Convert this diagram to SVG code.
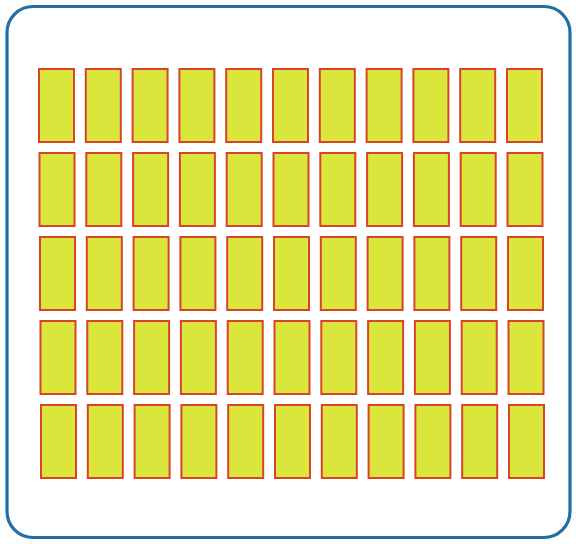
<svg xmlns="http://www.w3.org/2000/svg" width="576" height="544" viewBox="0 0 576 544">
<style>
.c{fill:#dbe63c;stroke:#d9432a;stroke-width:2}
</style>
<defs><rect id="r" class="c" width="35" height="73"/></defs>
<rect x="0" y="0" width="576" height="544" fill="#ffffff"/>
<rect id="frame" x="7" y="6.5" width="563" height="531" rx="26" ry="26" fill="#ffffff" stroke="#1f6ea6" stroke-width="3.2"/>
<g id="grid">
<g id="row1" transform="translate(39,69)">
<use href="#r" x="0"/><use href="#r" x="46.8"/><use href="#r" x="93.6"/><use href="#r" x="140.4"/><use href="#r" x="187.2"/><use href="#r" x="234"/><use href="#r" x="280.8"/><use href="#r" x="327.6"/><use href="#r" x="374.4"/><use href="#r" x="421.2"/><use href="#r" x="468"/>
</g>
<g id="row2" transform="translate(39.5,153)">
<use href="#r" x="0"/><use href="#r" x="46.8"/><use href="#r" x="93.6"/><use href="#r" x="140.4"/><use href="#r" x="187.2"/><use href="#r" x="234"/><use href="#r" x="280.8"/><use href="#r" x="327.6"/><use href="#r" x="374.4"/><use href="#r" x="421.2"/><use href="#r" x="468"/>
</g>
<g id="row3" transform="translate(40,237)">
<use href="#r" x="0"/><use href="#r" x="46.8"/><use href="#r" x="93.6"/><use href="#r" x="140.4"/><use href="#r" x="187.2"/><use href="#r" x="234"/><use href="#r" x="280.8"/><use href="#r" x="327.6"/><use href="#r" x="374.4"/><use href="#r" x="421.2"/><use href="#r" x="468"/>
</g>
<g id="row4" transform="translate(40.5,321)">
<use href="#r" x="0"/><use href="#r" x="46.8"/><use href="#r" x="93.6"/><use href="#r" x="140.4"/><use href="#r" x="187.2"/><use href="#r" x="234"/><use href="#r" x="280.8"/><use href="#r" x="327.6"/><use href="#r" x="374.4"/><use href="#r" x="421.2"/><use href="#r" x="468"/>
</g>
<g id="row5" transform="translate(41,405)">
<use href="#r" x="0"/><use href="#r" x="46.8"/><use href="#r" x="93.6"/><use href="#r" x="140.4"/><use href="#r" x="187.2"/><use href="#r" x="234"/><use href="#r" x="280.8"/><use href="#r" x="327.6"/><use href="#r" x="374.4"/><use href="#r" x="421.2"/><use href="#r" x="468"/>
</g>
</g>
</svg>
